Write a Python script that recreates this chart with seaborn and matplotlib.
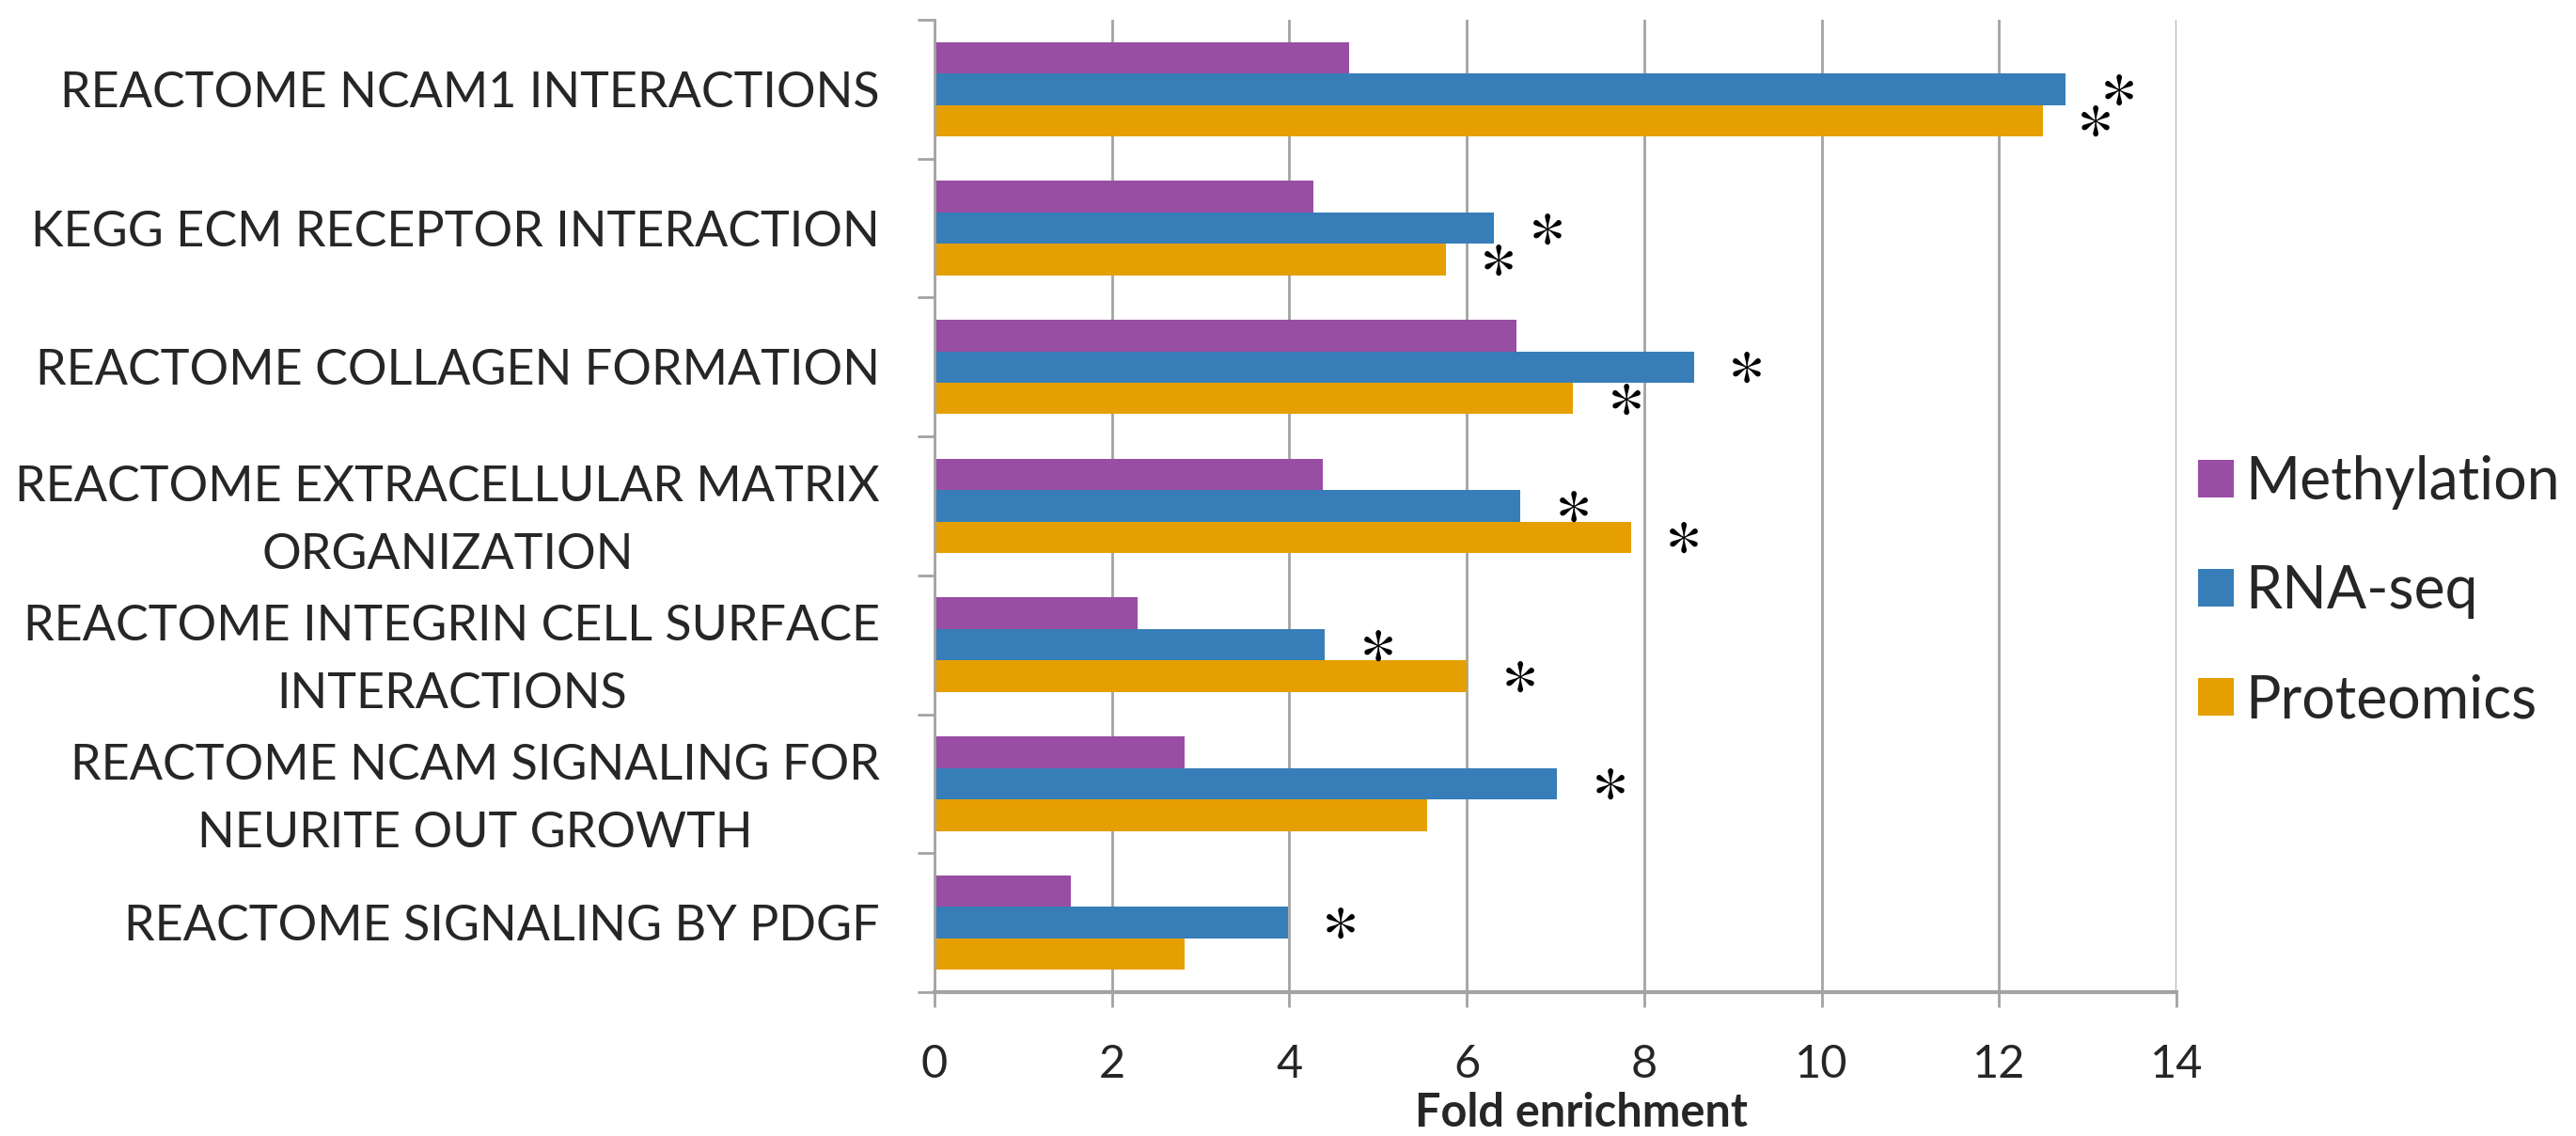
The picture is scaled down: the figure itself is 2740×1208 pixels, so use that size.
import numpy as np
import pandas as pd
import matplotlib
matplotlib.use('Agg')
import matplotlib.pyplot as plt
import seaborn as sns

# pathways, top to bottom
pathways = ['REACTOME NCAM1 INTERACTIONS',
            'KEGG ECM RECEPTOR INTERACTION',
            'REACTOME COLLAGEN FORMATION',
            'REACTOME EXTRACELLULAR MATRIX\nORGANIZATION',
            'REACTOME INTEGRIN CELL SURFACE\nINTERACTIONS',
            'REACTOME NCAM SIGNALING FOR\nNEURITE OUT GROWTH',
            'REACTOME SIGNALING BY PDGF']
datasets = ['Methylation', 'RNA-seq', 'Proteomics']

methylation = [4.67, 4.27, 6.56, 4.38, 2.29, 2.82, 1.54]
rnaseq = [12.75, 6.31, 8.56, 6.60, 4.40, 7.02, 3.98]
proteomics = [12.49, 5.76, 7.20, 7.85, 6.00, 5.55, 2.82]

# significance stars (1 = '*')
sig_methylation = [0, 0, 0, 0, 0, 0, 0]
sig_rnaseq = [1, 1, 1, 1, 1, 1, 1]
sig_proteomics = [1, 1, 1, 1, 1, 0, 0]

colors = ['#984EA3', '#377EB8', '#E69F00']
x_ticks = [0, 2, 4, 6, 8, 10, 12, 14]

df = pd.DataFrame({
    'pathway': pathways * 3,
    'dataset': np.repeat(datasets, len(pathways)),
    'fold': methylation + rnaseq + proteomics,
})

sns.set_theme(style='white')
plt.rcParams['font.family'] = ['Lato', 'DejaVu Sans']
plt.rcParams['mathtext.fontset'] = 'stix'
grid_col = '#a3a3a3'

fig = plt.figure(figsize=(27.4, 12.08), dpi=100)
ax = fig.add_axes([0.3628, 0.1267, 0.8449 - 0.3628, 0.9826 - 0.1267])

sns.barplot(data=df, y='pathway', x='fold', hue='dataset', orient='h',
            order=pathways, hue_order=datasets, palette=colors,
            width=0.68, saturation=1, linewidth=0, errorbar=None, ax=ax)

# stars next to significant bars
sigs = [sig_methylation, sig_rnaseq, sig_proteomics]
for cont, sig in zip(ax.containers, sigs):
    for bar, s in zip(cont, sig):
        if s:
            ax.annotate(r'$\ast$', xy=(bar.get_width(), bar.get_y() + bar.get_height() / 2),
                        xytext=(39, 2), textcoords='offset points',
                        ha='center', va='center', fontsize=55, color='black')

ax.set_xlim(0, 14)
ax.set_xticks(x_ticks)
ax.set_xticklabels([str(t) for t in x_ticks], fontsize=35)
ax.grid(axis='x', color=grid_col, linewidth=2)
ax.set_axisbelow(True)
ax.tick_params(axis='x', length=11.5, width=2, color=grid_col, pad=28, bottom=True)

n = len(pathways)
ax.set_yticks(np.arange(-0.5, n), labels=[''] * (n + 1))
ax.set_yticks(np.arange(n), labels=pathways, minor=True)
ax.tick_params(axis='y', which='major', length=13, width=2, color=grid_col, left=True)
ax.tick_params(axis='y', which='minor', length=0, pad=42, labelsize=37.5)
for lbl in ax.get_yticklabels(minor=True):
    lbl.set_multialignment('center')
    lbl.set_linespacing(1.65)
ax.set_ylim(n - 0.5, -0.5)

for side in ['top', 'right']:
    ax.spines[side].set_visible(False)
ax.spines['left'].set_color(grid_col)
ax.spines['left'].set_linewidth(2)
ax.spines['bottom'].set_color(grid_col)
ax.spines['bottom'].set_linewidth(3)

ax.set_ylabel('')
ax.set_xlabel('Fold enrichment', fontsize=35, fontweight='bold')
ax.xaxis.set_label_coords(0.521, -0.1383)
ax.xaxis.label.set_va('baseline')

handles, labels = ax.get_legend_handles_labels()
ax.get_legend().remove()
fig.legend(handles, labels, loc='center left', bbox_to_anchor=(0.8533, 0.4793),
           frameon=False, fontsize=45, handlelength=0.61, handleheight=0.61,
           handletextpad=0.2, labelspacing=0.93, borderpad=0, borderaxespad=0)

fig.savefig('out.png', dpi=100)
